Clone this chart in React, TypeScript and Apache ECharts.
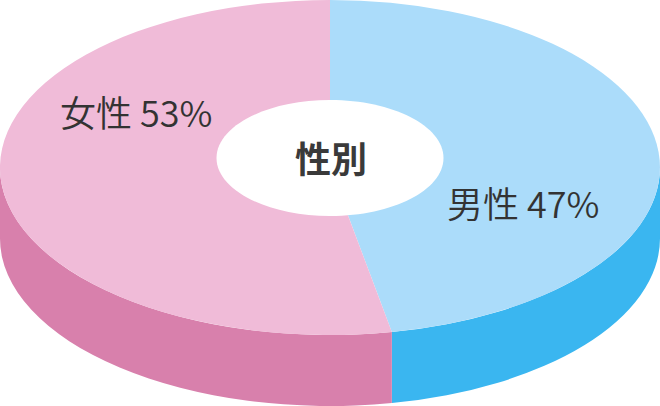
import React, { useEffect, useRef } from "react";
import * as echarts from "echarts";

const names = ["男性", "女性"];
const shares = [47, 53];
const topColors = ["#ABDCFA", "#F0BBD8"];
const sideColors = ["#3AB6F0", "#D880AC"];
const labelAnchors = [
  [447, 202],
  [60, 111],
];
const centerTitle = "性別";

const CX = 330;
const CY = 167.5;
const RX = 330;
const RY = 167.5;
const DEPTH = 71;
const FONT = '"Noto Sans CJK JP", "Noto Sans", sans-serif';
const TEXT = "#333333";

const pt = (a: number, dy = 0) => [CX + RX * Math.sin(a), CY - RY * Math.cos(a) + dy];
const fmt = (p: number[]) => `${p[0].toFixed(2)} ${p[1].toFixed(2)}`;
const arc = (a: number, b: number, dy: number, sweep: number) => {
  const end = pt(b, dy);
  const large = Math.abs(b - a) > Math.PI ? 1 : 0;
  return `A ${RX} ${RY} 0 ${large} ${sweep} ${fmt(end)}`;
};

function renderItem(params: any, api: any) {
  const i = params.dataIndex;
  const total = shares.reduce((s, v) => s + v, 0);
  const before = shares.slice(0, i).reduce((s, v) => s + v, 0);
  const a0 = (before / total) * Math.PI * 2;
  const a1 = ((before + api.value(0)) / total) * Math.PI * 2;

  const children: any[] = [];
  // front wall: only the part of the slice on the near half of the ellipse
  const s0 = Math.max(a0, Math.PI / 2);
  const s1 = Math.min(a1, (Math.PI * 3) / 2);
  if (s1 > s0) {
    const d =
      `M ${fmt(pt(s0))} ${arc(s0, s1, 0, 1)} L ${fmt(pt(s1, DEPTH))} ` +
      `${arc(s1, s0, DEPTH, 0)} Z`;
    children.push({
      type: "path",
      shape: { pathData: d },
      style: { fill: sideColors[i], stroke: null },
    });
  }
  const top = `M ${CX} ${CY} L ${fmt(pt(a0))} ${arc(a0, a1, 0, 1)} Z`;
  children.push({
    type: "path",
    shape: { pathData: top },
    style: { fill: topColors[i], stroke: null },
  });
  children.push({
    type: "text",
    x: labelAnchors[i][0],
    y: labelAnchors[i][1],
    z2: 10,
    style: {
      text: `${names[i]} ${api.value(0)}%`,
      fill: TEXT,
      font: `350 36px ${FONT}`,
      textAlign: "left",
      textVerticalAlign: "middle",
    },
  });
  return { type: "group", children };
}

export default function App() {
  const ref = useRef<HTMLDivElement>(null);
  useEffect(() => {
    const chart = echarts.init(ref.current!, null, { renderer: "svg" });
    chart.setOption({
      animation: false,
      backgroundColor: "#FFFFFF",
      title: {
        text: centerTitle,
        left: 295,
        top: 133,
        padding: 0,
        textStyle: { color: "#3A3A3A", fontFamily: FONT, fontSize: 36, fontWeight: 700, lineHeight: 48 },
      },
      graphic: [
        {
          type: "ellipse",
          z: 5,
          shape: { cx: 330, cy: 158, rx: 113.5, ry: 58 },
          style: { fill: "#FFFFFF" },
        },
      ],
      series: [
        {
          type: "custom",
          coordinateSystem: "none",
          silent: true,
          renderItem,
          data: shares.map((v, i) => ({ name: names[i], value: v })),
        },
      ],
    });
    return () => chart.dispose();
  }, []);
  return <div ref={ref} style={{ position: "fixed", left: 0, top: 0, width: 660, height: 406 }} />;
}
